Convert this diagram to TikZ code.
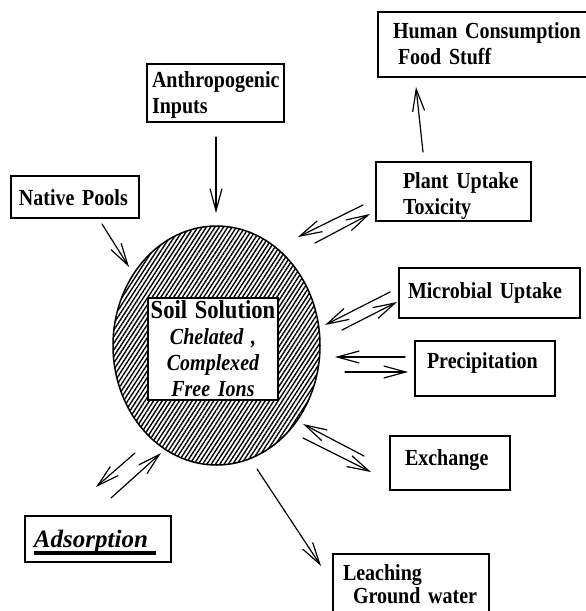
\documentclass[tikz,border=0pt]{standalone}
\usepackage{fontspec}
\setmainfont{Liberation Serif}[FakeStretch=0.87, WordSpace=0.6]
\newfontfamily\wideserif{Liberation Serif}[WordSpace=0.6]
\usepackage{tikz}
\usetikzlibrary{arrows.meta,shapes.geometric,patterns.meta}
\tikzstyle{flow} = [line width=1.2pt, -{Straight Barb[length=22pt,width=12pt]}, line join=round, line cap=round]
\tikzstyle{pool} = [rectangle, draw, line width=1.4pt, align=left, inner sep=0pt, text height=16pt, font=\bfseries\fontsize{23}{26}\selectfont]

\begin{document}
\begin{tikzpicture}[x=1pt, y=-1pt]
\useasboundingbox (0,0) rectangle (586,611);
\clip (0,0) rectangle (586,611);

% Soil solution
\node (soil) [ellipse, draw, line width=1.5pt, minimum width=207pt, minimum height=239pt, pattern={Lines[angle=57,distance=3.6pt,line width=1.4pt]}] at (216.5,345.5) {};
\node (solution) [pool, fill=white, align=center, minimum width=130pt, minimum height=102pt, text width=126pt, text height=17pt, text depth=79pt] at (213,349)
  {\mbox{\fontsize{26}{26}\selectfont Soil Solution}\\\itshape Chelated ,\\\itshape Complexed\\\itshape Free Ions};

% Sources
\node (anthro) [pool, minimum width=137pt, minimum height=58pt, text width=127pt, text depth=28pt] at (215.5,93) {\mbox{Anthropogenic}\\Inputs};
\node (native) [pool, minimum width=128pt, minimum height=42pt, text width=112pt, text depth=0pt] at (75,197) {\mbox{Native Pools}};

% Sinks
\node (human) [pool, minimum width=209pt, minimum height=65pt, text width=179pt, text depth=29pt] at (482.5,44.5) {\mbox{Human Consumption}\\\hspace*{5pt}\mbox{Food Stuff}};
\node (plant) [pool, minimum width=155pt, minimum height=59pt, text width=101pt, text depth=23pt] at (453.5,191.5) {\mbox{Plant Uptake}\\Toxicity};
\node (microbe) [pool, minimum width=181pt, minimum height=50pt, text width=163pt, text depth=6pt] at (489.5,293) {\mbox{Microbial Uptake}};
\node (precip) [pool, minimum width=140pt, minimum height=55pt, text width=116pt, text depth=17pt] at (485,368.5) {\mbox{Precipitation}};
\node (exch) [pool, minimum width=120pt, minimum height=54pt, text width=90pt, text depth=12pt] at (450,463) {\mbox{Exchange}};
\node (leach) [pool, minimum width=156pt, minimum height=66pt, text width=136pt, text depth=30pt] at (411,587) {Leaching\\[-3pt]\hspace*{10pt}\mbox{Ground water}};
\node (adsorb) [pool, font=\wideserif\bfseries\fontsize{25}{26}\selectfont, minimum width=146pt, minimum height=46pt, text width=128pt, text depth=0pt] at (98,539)
  {\itshape\rlap{\rule[-8pt]{122pt}{4pt}}Adsorption};

% Arrow ends
\coordinate (anthro-a) at (216,137);  \coordinate (anthro-b) at (216,213);
\coordinate (native-a) at (102,224);  \coordinate (native-b) at (129,267);
\coordinate (human-a) at (423,152);   \coordinate (human-b) at (416,87);
\coordinate (leach-a) at (257,469);   \coordinate (leach-b) at (321,566);
\coordinate (plant-a) at (363,205);   \coordinate (plant-b) at (298,237);
\coordinate (plant-c) at (315,243);   \coordinate (plant-d) at (370,214);
\coordinate (microbe-a) at (390,292); \coordinate (microbe-b) at (325,325);
\coordinate (microbe-c) at (342,330); \coordinate (microbe-d) at (397,302);
\coordinate (precip-a) at (405,357);  \coordinate (precip-b) at (335,357);
\coordinate (precip-c) at (345,372);  \coordinate (precip-d) at (408,372);
\coordinate (exch-a) at (364,456);    \coordinate (exch-b) at (303,424);
\coordinate (exch-c) at (303,438);    \coordinate (exch-d) at (371,472);
\coordinate (adsorb-a) at (135,453);  \coordinate (adsorb-b) at (96,487);
\coordinate (adsorb-c) at (111,498);  \coordinate (adsorb-d) at (161,453);

% Arrows
\draw[flow] (anthro-a) -- (anthro-b);
\draw[flow] (native-a) -- (native-b);
\draw[flow] (human-a) -- (human-b);
\draw[flow] (leach-a) -- (leach-b);
\foreach \p in {plant,microbe,precip,exch,adsorb}{
  \draw[flow] (\p-a) -- (\p-b);
  \draw[flow] (\p-c) -- (\p-d);
}
\end{tikzpicture}
\end{document}
